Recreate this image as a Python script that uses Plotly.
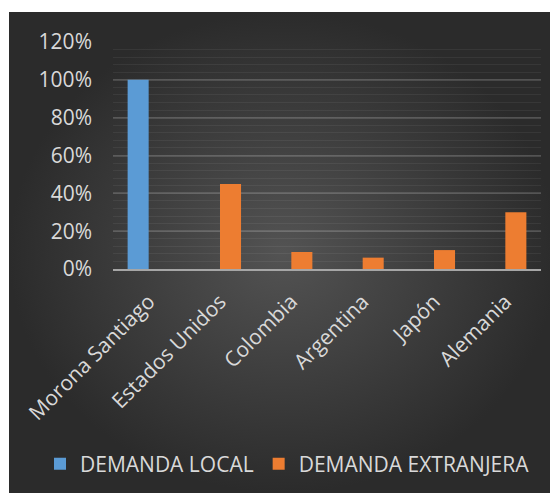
import plotly.graph_objects as go

categories = ["Morona Santiago", "Estados Unidos", "Colombia", "Argentina", "Japón", "Alemania"]
demanda_local = [1.00, None, None, None, None, None]
demanda_extranjera = [None, 0.45, 0.09, 0.06, 0.10, 0.30]
y_ticks = [0, 0.2, 0.4, 0.6, 0.8, 1.0, 1.2]

# page body has an 8px margin, so the figure is drawn 8px in from the window edge
OFF = 8
W, H = 558 - OFF, 493 - OFF
FONT = "Open Sans"
TXT = "#d9d9d9"


def px(v):
    return v - OFF


fig = go.Figure()

# background panel with radial gradient (pixel coordinates on hidden axes)
fig.add_trace(go.Scatter(
    x=[px(9), W, W, px(9), px(9)], y=[px(12), px(12), H, H, px(12)],
    mode="lines", line=dict(width=0), fill="toself",
    fillgradient=dict(type="radial", colorscale=[[0, "#535353"], [1, "#2b2b2b"]]),
    hoverinfo="skip", showlegend=False, xaxis="x", yaxis="y",
))

fig.add_trace(go.Bar(
    name="DEMANDA LOCAL", x=categories, y=demanda_local,
    marker=dict(color="#5b9bd5", line=dict(width=0)),
    xaxis="x2", yaxis="y2",
))
fig.add_trace(go.Bar(
    name="DEMANDA EXTRANJERA", x=categories, y=demanda_extranjera,
    marker=dict(color="#ed7d31", line=dict(width=0)),
    xaxis="x2", yaxis="y2",
))

fig.update_layout(
    width=W, height=H,
    margin=dict(l=0, r=0, t=0, b=0, pad=0, autoexpand=False),
    paper_bgcolor="white",
    plot_bgcolor="rgba(0,0,0,0)",
    font=dict(family=FONT, size=20, color=TXT),
    barmode="group", bargap=0.41, bargroupgap=0,
    xaxis=dict(domain=[0, 1], range=[0, W], visible=False, fixedrange=True),
    yaxis=dict(domain=[0, 1], range=[H, 0], visible=False, fixedrange=True),
    xaxis2=dict(
        domain=[px(113) / W, px(541) / W], anchor="y2",
        showgrid=False, showline=True, linecolor="#a6a6a6", linewidth=2,
        tickangle=-45, ticks="", ticklabelstandoff=10,
        tickfont=dict(family=FONT, size=21, color=TXT),
    ),
    yaxis2=dict(
        domain=[(H - px(269)) / H, (H - px(42)) / H], anchor="x2",
        range=[0, 1.2], tickvals=y_ticks, tickformat=".0%",
        showgrid=True, gridcolor="rgba(255,255,255,0.14)", gridwidth=1.5,
        minor=dict(dtick=0.04, showgrid=True, gridcolor="rgba(255,255,255,0.06)", gridwidth=1),
        zeroline=False, showline=False, ticks="", ticklabelstandoff=20,
        tickfont=dict(family=FONT, size=21, color=TXT),
    ),
    legend=dict(
        orientation="h", x=px(40) / W, xanchor="left", y=(H - px(464)) / H, yanchor="middle",
        font=dict(family=FONT, size=21, color=TXT), bgcolor="rgba(0,0,0,0)",
        traceorder="normal", itemwidth=30,
    ),
)

fig.write_html("out.html")
